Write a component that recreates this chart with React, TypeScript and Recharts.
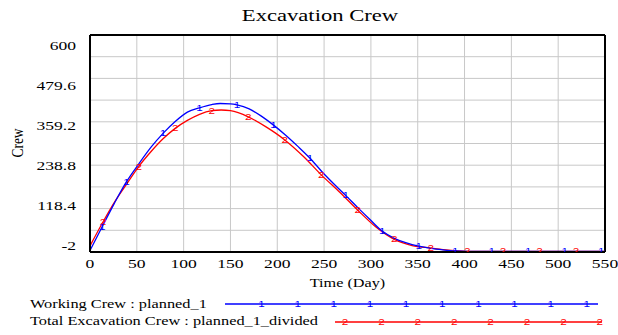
import { LineChart, Line, XAxis, YAxis, CartesianGrid, ReferenceLine, Legend } from 'recharts';

// Working Crew : planned_1
const blueDays = [0, 13, 26, 39, 52, 65, 78, 91, 104, 117, 130, 139, 150, 157, 170, 183, 196, 209, 222, 235, 248, 260, 273, 286, 299, 312, 325, 338, 351, 364, 377, 390, 403, 429, 468, 507, 546, 550];
const blueValues = [2, 68, 133, 193, 242, 288, 327, 360, 386, 398, 407, 410, 409, 406, 395, 375, 350, 322, 291, 258, 220, 188, 155, 121, 88, 56, 36, 23, 14, 8, 4, 1, 0, 0, 0, 0, 0, 0];
const blueMarkers = [13, 39, 78, 117, 157, 196, 235, 273, 312, 351, 390, 429, 468, 507, 546];

// Total Excavation Crew : planned_1_divided
const redDays = [0, 14, 27, 40, 52, 65, 78, 91, 104, 117, 130, 140, 150, 169, 188, 208, 228, 247, 267, 286, 305, 325, 344, 364, 383, 403, 441, 480, 519, 550];
const redValues = [15, 82, 140, 190, 235, 276, 312, 341, 363, 380, 390, 392, 390, 373, 345, 309, 263, 212, 163, 114, 68, 33, 16, 9, 3, 0, 0, 0, 0, 0];
const redMarkers = [14, 52, 91, 130, 169, 208, 247, 286, 325, 364, 403, 441, 480, 519];

const xTicks = [0, 50, 100, 150, 200, 250, 300, 350, 400, 450, 500, 550];
const yTicks = [-2, 118.4, 238.8, 359.2, 479.6, 600];
const yGrid = [-2, 58.2, 118.4, 178.6, 238.8, 299, 359.2, 419.4, 479.6, 539.8, 600];

const blueData = blueDays.map((day, i) => ({ day, crew: blueValues[i] }));
const redData = redDays.map((day, i) => ({ day, crew: redValues[i] }));

const FONT = '"Liberation Serif", "Times New Roman", serif';
const BLUE = '#0000ff';
const RED = '#ff0000';

function XTick({ x, y, payload }: any) {
  return (
    <text transform={`translate(${x},${y + 16}) scale(1.3,1)`} textAnchor="middle" fontSize={13.5} fontFamily={FONT} fill="#000">
      {payload.value}
    </text>
  );
}

function YTick({ x, y, payload }: any) {
  // vensim spreads the labels a bit differently from the gridlines
  const shift = -7 + 3.4 * ((payload.value + 2) / 120.4);
  return (
    <text transform={`translate(${x},${y + shift + 4.5}) scale(1.3,1)`} textAnchor="end" fontSize={13.5} fontFamily={FONT} fill="#000">
      {payload.value}
    </text>
  );
}

function marker(label: string, color: string, days: number[]) {
  return (props: any) => {
    const { cx, cy, payload, index } = props;
    if (!days.includes(payload.day)) return <g key={index} />;
    return (
      <text key={index} transform={`translate(${cx},${cy + 3}) scale(1.3,1)`} textAnchor="middle" fontSize={9} fontFamily='"Liberation Sans", Arial, sans-serif' fill={color}>
        {label}
      </text>
    );
  };
}

function LegendBox() {
  const blueTicks = Array.from({ length: 10 }, (_, k) => 261.5 + 36.15 * k);
  const redTicks = Array.from({ length: 8 }, (_, k) => 345 + 36.4 * k);
  return (
    <svg width={618} height={49} style={{ display: 'block' }}>
      <text transform="translate(30,22) scale(1.21,1)" fontSize={13.5} fontFamily={FONT} fill="#000">
        Working Crew : planned_1
      </text>
      <line x1={225} x2={598} y1={18} y2={18} stroke={BLUE} strokeWidth={1.3} />
      {blueTicks.map((tx, k) => (
        <text key={k} transform={`translate(${tx},21) scale(1.3,1)`} textAnchor="middle" fontSize={9} fontFamily='"Liberation Sans", Arial, sans-serif' fill={BLUE}>1</text>
      ))}
      <text transform="translate(30,39) scale(1.21,1)" fontSize={13.5} fontFamily={FONT} fill="#000">
        Total Excavation Crew : planned_1_divided
      </text>
      <line x1={335} x2={602} y1={36} y2={36} stroke={RED} strokeWidth={1.3} />
      {redTicks.map((tx, k) => (
        <text key={k} transform={`translate(${tx},39) scale(1.3,1)`} textAnchor="middle" fontSize={9} fontFamily='"Liberation Sans", Arial, sans-serif' fill={RED}>2</text>
      ))}
    </svg>
  );
}

export default function App() {
  return (
    <div style={{ position: 'absolute', left: 0, top: 0, width: 618, height: 335, background: '#fff' }}>
      <LineChart width={618} height={335} margin={{ top: 35, right: 13, bottom: 0, left: 0 }}>
        <CartesianGrid stroke="#c8c8c8" strokeWidth={1} horizontalValues={yGrid} verticalValues={xTicks} />
        <XAxis
          dataKey="day"
          type="number"
          domain={[0, 550]}
          ticks={xTicks}
          interval={0}
          height={34}
          tickSize={0}
          tickMargin={0}
          tick={<XTick />}
          axisLine={{ stroke: '#000', strokeWidth: 2 }}
          allowDuplicatedCategory={false}
        />
        <YAxis
          type="number"
          domain={[-2, 600]}
          ticks={yTicks}
          interval={0}
          width={90}
          tickSize={0}
          tickMargin={14}
          tick={<YTick />}
          axisLine={{ stroke: '#000', strokeWidth: 2 }}
          allowDataOverflow
        />
        <ReferenceLine x={550} stroke="#000" strokeWidth={2} />
        <ReferenceLine y={600} stroke="#000" strokeWidth={2} />
        <Legend verticalAlign="bottom" height={49} wrapperStyle={{ left: 0, width: 618 }} content={() => <LegendBox />} />
        <Line data={redData} dataKey="crew" name="Total Excavation Crew : planned_1_divided" type="monotone" stroke={RED} strokeWidth={1.3} dot={marker('2', RED, redMarkers)} activeDot={false} isAnimationActive={false} />
        <Line data={blueData} dataKey="crew" name="Working Crew : planned_1" type="monotone" stroke={BLUE} strokeWidth={1.3} dot={marker('1', BLUE, blueMarkers)} activeDot={false} isAnimationActive={false} />
        <text transform="translate(320,21) scale(1.33,1)" textAnchor="middle" fontSize={17} fontFamily={FONT} fill="#000">
          Excavation Crew
        </text>
        <text transform="translate(347.5,287) scale(1.2,1)" textAnchor="middle" fontSize={13.5} fontFamily={FONT} fill="#000">
          Time (Day)
        </text>
        <text transform="translate(23,143) rotate(-90) scale(1,1.3)" textAnchor="middle" fontSize={13.5} fontFamily={FONT} fill="#000">
          Crew
        </text>
      </LineChart>
    </div>
  );
}
